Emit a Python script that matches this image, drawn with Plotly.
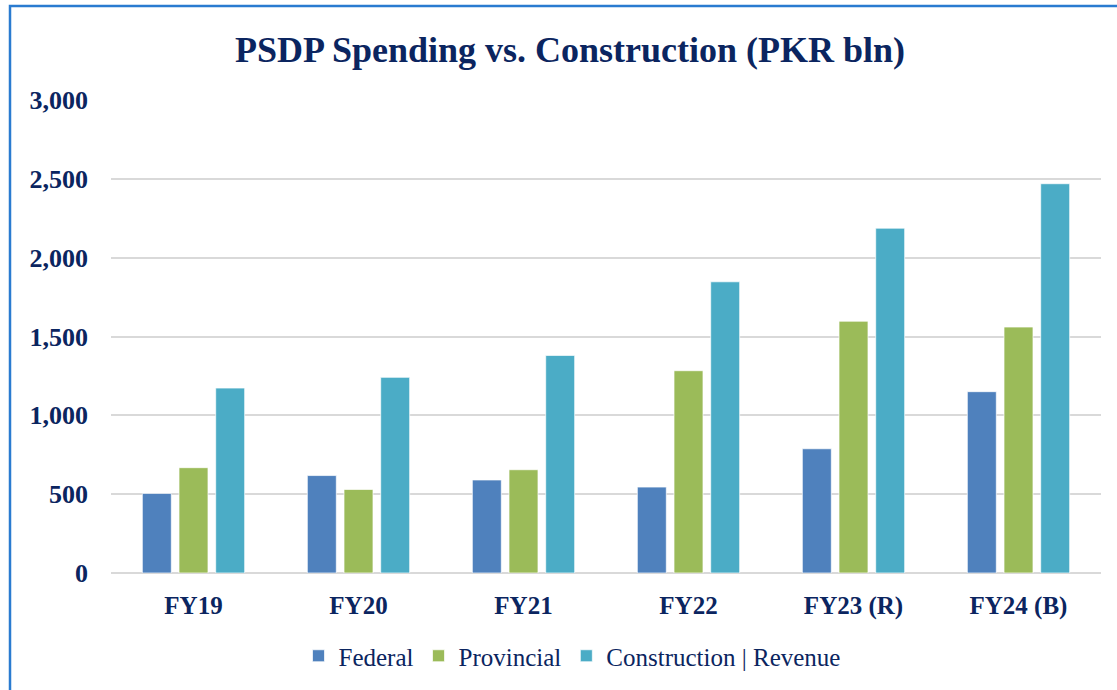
import plotly.graph_objects as go

categories = ["FY19", "FY20", "FY21", "FY22", "FY23 (R)", "FY24 (B)"]
federal = [505, 618, 590, 545, 788, 1150]
provincial = [668, 530, 655, 1283, 1597, 1560]
construction = [1173, 1241, 1380, 1847, 2187, 2469]
y_ticks = [0, 500, 1000, 1500, 2000, 2500, 3000]
y_tick_labels = ["0", "500", "1,000", "1,500", "2,000", "2,500", "3,000"]

W, H = 1117, 690
ML, MR, MT, MB = 111, 16, 100, 117
NAVY = "#0B2560"

fig = go.Figure()
for name, vals, col in [("Federal", federal, "#4F81BD"),
                        ("Provincial", provincial, "#9BBB59"),
                        ("Construction | Revenue", construction, "#4BACC6")]:
    fig.add_trace(go.Bar(x=categories, y=vals, name=name,
                         marker=dict(color=col, line=dict(color="rgba(255,255,255,0.7)", width=1))))

pw = W - ML - MR
ph = H - MT - MB
def px_x(p):
    return (p - ML) / pw
def px_y(p):
    return 1 - (p - MT) / ph

fig.update_layout(
    width=W, height=H,
    margin=dict(l=ML, r=MR, t=MT, b=MB),
    paper_bgcolor="white", plot_bgcolor="white",
    barmode="group", bargap=0.333, bargroupgap=0.21,
    title=dict(text="<b>PSDP Spending vs. Construction (PKR bln)</b>",
               font=dict(family="Liberation Serif", size=36, color=NAVY),
               x=570 / W, xanchor="center", xref="container",
               y=1 - 49 / H, yanchor="middle", yref="container"),
    xaxis=dict(showgrid=False, showline=False, zeroline=False, ticks="",
               tickfont=dict(family="Liberation Serif", size=25, color=NAVY),
               ticklabelstandoff=15, tickprefix="<b>", ticksuffix="</b>"),
    yaxis=dict(range=[0, 3000], tickvals=y_ticks, ticktext=["<b>%s</b>" % t for t in y_tick_labels],
               showgrid=True, gridcolor="#D9D9D9", gridwidth=1.5,
               zeroline=True, zerolinecolor="#D9D9D9", zerolinewidth=1.5,
               showline=False, ticks="",
               tickfont=dict(family="Liberation Serif", size=26, color=NAVY),
               ticklabelstandoff=22),
    legend=dict(orientation="h", xref="container", yref="container",
                x=572 / W, xanchor="center", y=1 - 656 / H, yanchor="middle",
                font=dict(family="Liberation Serif", size=25, color=NAVY),
                itemwidth=30, traceorder="normal"),
    shapes=[dict(type="rect", xref="paper", yref="paper",
                 x0=px_x(10), x1=px_x(W + 20), y0=px_y(H + 20), y1=px_y(6),
                 line=dict(color="#2A7BD0", width=2.5), fillcolor="rgba(0,0,0,0)", layer="above")],
)

fig.write_html("out.html", config={"displayModeBar": False},
               post_script="document.body.style.margin='0px';")
